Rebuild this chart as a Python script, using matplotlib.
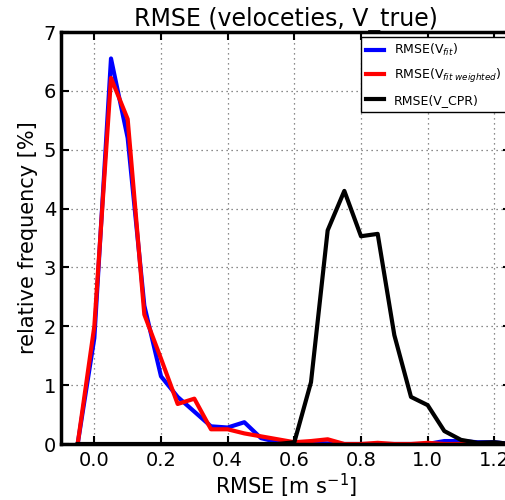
import matplotlib
matplotlib.use("Agg")
import matplotlib.pyplot as plt

rmse_bins = [-0.05, 0.0, 0.05, 0.1, 0.15, 0.2, 0.25, 0.3, 0.35, 0.4, 0.45, 0.5, 0.55,
             0.6, 0.65, 0.7, 0.75, 0.8, 0.85, 0.9, 0.95, 1.0, 1.05, 1.1, 1.15, 1.2, 1.25]

freq_fit = [0.0, 1.8, 6.55, 5.2, 2.35, 1.15, 0.8, 0.55, 0.3, 0.28, 0.37, 0.1, 0.03,
            0.02, 0.02, 0.01, 0.0, 0.0, 0.0, 0.0, 0.0, 0.0, 0.05, 0.05, 0.03, 0.03, 0.0]

freq_fit_weighted = [0.0, 2.0, 6.22, 5.52, 2.2, 1.45, 0.68, 0.77, 0.25, 0.25, 0.18, 0.13, 0.08,
                     0.03, 0.05, 0.08, 0.0, 0.0, 0.02, 0.0, 0.0, 0.02, 0.0, 0.0, 0.0, 0.0, 0.0]

freq_cpr = [0.0, 0.0, 0.0, 0.0, 0.0, 0.0, 0.0, 0.0, 0.0, 0.0, 0.0, 0.0, 0.0,
            0.03, 1.05, 3.63, 4.3, 3.53, 3.57, 1.85, 0.8, 0.66, 0.22, 0.07, 0.02, 0.03, 0.0]

x_ticks = [0.0, 0.2, 0.4, 0.6, 0.8, 1.0, 1.2]
y_ticks = [0, 1, 2, 3, 4, 5, 6, 7]

fig = plt.figure(figsize=(5.06, 5.0), dpi=100)
ax = fig.add_axes([61 / 506, 0.112, 450 / 506, 0.824])

ax.plot(rmse_bins, freq_fit, color="blue", linewidth=3, label=r"RMSE(V$_{fit}$)")
ax.plot(rmse_bins, freq_fit_weighted, color="red", linewidth=3, label=r"RMSE(V$_{fit\ weighted}$)")
ax.plot(rmse_bins, freq_cpr, color="black", linewidth=3, label="RMSE(V_CPR)")

ax.set_xlim(-0.1, 1.25)
ax.set_ylim(0, 7)
ax.set_xticks(x_ticks)
ax.set_yticks(y_ticks)
ax.tick_params(direction="in", top=True, right=True, length=6, width=1.5, labelsize=14)
ax.tick_params(axis="x", pad=5)
for spine in ax.spines.values():
    spine.set_linewidth(2.5)
ax.grid(True, linestyle=(0, (1, 3)), color="0.4", linewidth=0.9)

ax.set_title("RMSE (veloceties, V_true)", fontsize=17, pad=4)
ax.set_xlabel(r"RMSE [m s$^{-1}$]", fontsize=15, labelpad=1)
ax.set_ylabel("relative frequency [%]", fontsize=15)

leg = ax.legend(loc="upper right", fontsize=9, fancybox=False, framealpha=1.0,
                borderaxespad=0.4, handlelength=1.4, labelspacing=0.7,
                bbox_to_anchor=(1.0, 1.0))
leg.get_frame().set_edgecolor("black")

fig.savefig("out.png", dpi=100)
